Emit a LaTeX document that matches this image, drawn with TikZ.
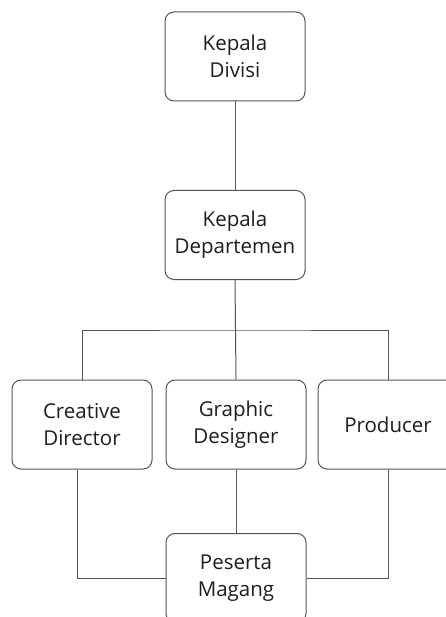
\documentclass[tikz,border=0pt]{standalone}
\usepackage{fontspec}
\setmainfont{Open Sans}
\definecolor{linegray}{HTML}{555555}
\definecolor{textgray}{HTML}{1E1E1E}
\begin{document}
\begin{tikzpicture}[x=1pt,y=-1pt,
  box/.style={draw=linegray, line width=1pt, rounded corners=9pt, minimum width=140pt, minimum height=89pt,
    align=center, text=textgray, font=\fontsize{20.5}{27}\selectfont, inner sep=0pt},
  conn/.style={draw=linegray, line width=1pt}]
\clip (0,0) rectangle (446,617);
\fill[white] (0,0) rectangle (446,617);
\node[box] (kd) at (235,56.5) {Kepala\\Divisi};
\node[box] (kdep) at (235,235) {Kepala\\Departemen};
\node[box] (cd) at (82,424.5) {Creative\\Director};
\node[box] (ga) at (236,424.5) {Graphic\\Designer};
\node[box] (pr) at (388,424.5) {Producer};
\node[box] (pm) at (236,578) {Peserta\\Magang};
\coordinate (bus) at (235,330);
\draw[conn] (kd.south) -- (kdep.north);
\draw[conn] (kdep.south) -- (ga.north);
\draw[conn] (cd.north) |- (bus) -| (pr.north);
\draw[conn] (ga.south) -- (pm.north);
\draw[conn] ([xshift=-5pt]cd.south) |- (pm.west);
\draw[conn] (pr.south) |- (pm.east);
\end{tikzpicture}
\end{document}
